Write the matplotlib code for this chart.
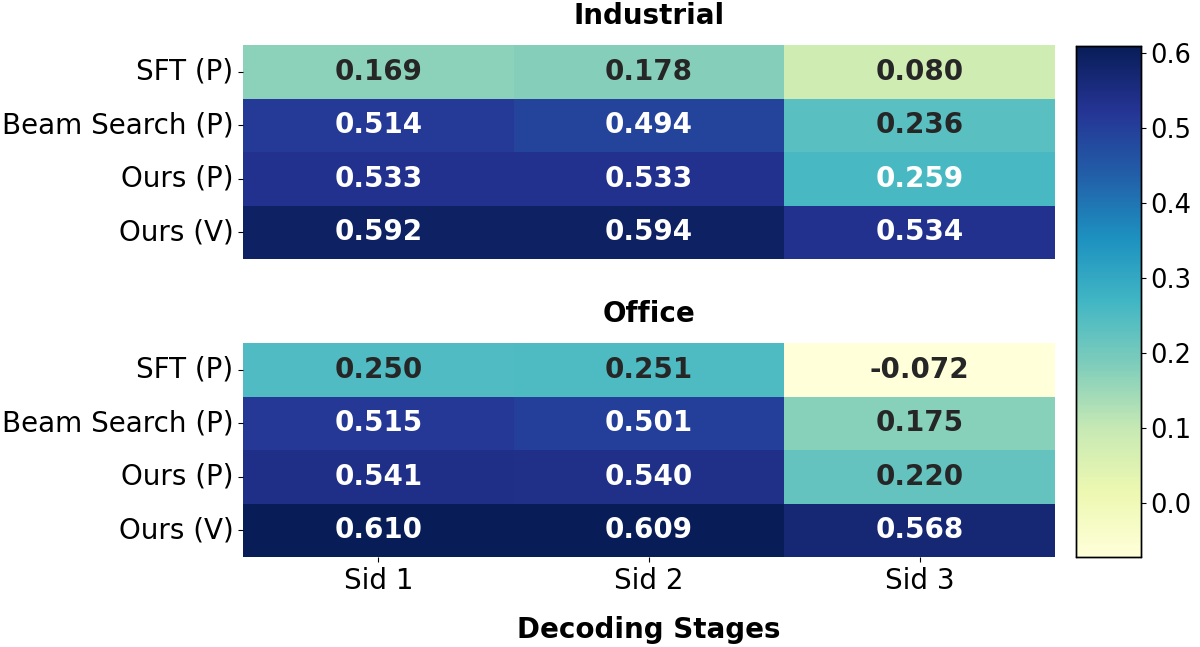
import matplotlib
matplotlib.use("Agg")
import matplotlib.pyplot as plt
import seaborn as sns
import numpy as np

methods = ["SFT (P)", "Beam Search (P)", "Ours (P)", "Ours (V)"]
stages = ["Sid 1", "Sid 2", "Sid 3"]

industrial = [
    [0.169, 0.178, 0.080],
    [0.514, 0.494, 0.236],
    [0.533, 0.533, 0.259],
    [0.592, 0.594, 0.534],
]
office = [
    [0.250, 0.251, -0.072],
    [0.515, 0.501, 0.175],
    [0.541, 0.540, 0.220],
    [0.610, 0.609, 0.568],
]

vmin = min(np.min(industrial), np.min(office))
vmax = max(np.max(industrial), np.max(office))

fig = plt.figure(figsize=(12, 6.47), dpi=100)
ax1 = fig.add_axes([243/1200, 1-259/647, 812/1200, 214/647])
ax2 = fig.add_axes([243/1200, 1-557/647, 812/1200, 214/647])
cax = fig.add_axes([1076/1200, 1-557/647, 65/1200, 511/647])

annot_kws = {"fontsize": 20, "fontweight": "bold"}
sns.heatmap(np.array(industrial), ax=ax1, cmap="YlGnBu", vmin=vmin, vmax=vmax,
            annot=True, fmt=".3f", annot_kws=annot_kws, cbar=False,
            xticklabels=False, yticklabels=methods)
sns.heatmap(np.array(office), ax=ax2, cmap="YlGnBu", vmin=vmin, vmax=vmax,
            annot=True, fmt=".3f", annot_kws=annot_kws, cbar=True, cbar_ax=cax,
            xticklabels=stages, yticklabels=methods)

for ax, title in [(ax1, "Industrial"), (ax2, "Office")]:
    ax.set_title(title, fontsize=20, fontweight="bold", pad=15)
    ax.tick_params(axis="y", labelsize=20, rotation=0)
    ax.tick_params(axis="x", labelsize=20, rotation=0)
ax1.tick_params(axis="x", length=0)
ax2.set_xlabel("Decoding Stages", fontsize=20, fontweight="bold", labelpad=15)

cax.tick_params(labelsize=18.5)
for s in cax.spines.values():
    s.set_visible(True)
    s.set_linewidth(1)

fig.savefig("out.png", dpi=100)
